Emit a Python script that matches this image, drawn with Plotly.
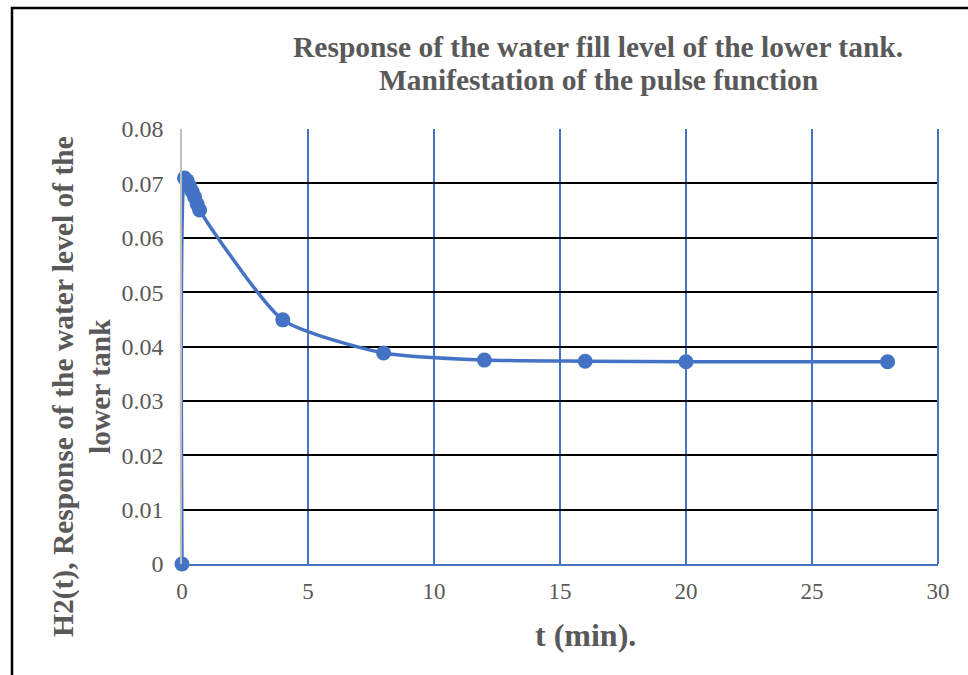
import plotly.graph_objects as go

t_min = [0, 0.1, 0.2, 0.3, 0.4, 0.5, 0.6, 0.7, 4, 8, 12, 16, 20, 28]
h2 = [0, 0.0710, 0.0705, 0.0695, 0.0685, 0.0675, 0.0662, 0.0651, 0.0449, 0.0388, 0.0375, 0.0373, 0.0372, 0.0372]

x_ticks = [0, 5, 10, 15, 20, 25, 30]
y_ticks = [0, 0.01, 0.02, 0.03, 0.04, 0.05, 0.06, 0.07, 0.08]
y_tick_text = ["0", "0.01", "0.02", "0.03", "0.04", "0.05", "0.06", "0.07", "0.08"]

title_lines = ["Response of the water fill level of the lower tank.", "Manifestation of the pulse function"]
ytitle_lines = ["H2(t), Response of the water level of the", "lower tank"]
xtitle = "t (min)."

BLUE = "#4472C4"
GRAY = "#595959"
FONT = "Liberation Serif"

W, H = 968, 675
L, R, T, B = 182, 30, 129, 111
pw, ph = W - L - R, H - T - B

def px(xp):
    return (xp - L) / pw

def py(yp):
    return (H - B - yp) / ph

fig = go.Figure()
fig.add_trace(go.Scatter(
    x=t_min, y=h2, mode="lines+markers",
    line=dict(color=BLUE, width=3.5, shape="spline", smoothing=0.6),
    marker=dict(color=BLUE, size=15),
    cliponaxis=False, showlegend=False,
))

annotations = []
for txt, yp in zip(title_lines, [47, 80]):
    annotations.append(dict(text="<b>%s</b>" % txt, xref="paper", yref="paper",
                            x=px(598), y=py(yp), xanchor="center", yanchor="middle",
                            showarrow=False, font=dict(size=29.5, color=GRAY, family=FONT)))
for txt, xp in zip(ytitle_lines, [63, 100]):
    annotations.append(dict(text="<b>%s</b>" % txt, xref="paper", yref="paper",
                            x=px(xp), y=py(387), xanchor="center", yanchor="middle", textangle=-90,
                            showarrow=False, font=dict(size=29.5, color=GRAY, family=FONT)))
annotations.append(dict(text="<b>%s</b>" % xtitle, xref="paper", yref="paper", x=px(585), y=py(635),
                        xanchor="center", yanchor="middle", showarrow=False,
                        font=dict(size=32, color=GRAY, family=FONT)))

fig.update_layout(
    width=W, height=H,
    margin=dict(l=L, r=R, t=T, b=B),
    paper_bgcolor="white", plot_bgcolor="white",
    font=dict(family=FONT, color=GRAY, size=24),
    xaxis=dict(
        range=[0, 30], tickvals=x_ticks, ticks="",
        showgrid=True, gridcolor=BLUE, gridwidth=1.5,
        zeroline=False, showline=True, linecolor=BLUE, linewidth=2,
        tickfont=dict(size=23, color=GRAY), ticklabelstandoff=5,
    ),
    yaxis=dict(
        range=[0, 0.08], tickvals=y_ticks, ticktext=y_tick_text, ticks="",
        showgrid=True, gridcolor="black", gridwidth=1.5,
        zeroline=False, showline=True, linecolor="#BFBFBF", linewidth=1.5,
        tickfont=dict(size=24, color=GRAY), ticklabelstandoff=12,
    ),
    shapes=[
        dict(type="rect", xref="paper", yref="paper",
             x0=px(12), x1=px(990), y0=py(700), y1=py(8),
             line=dict(color="black", width=2.5), fillcolor="rgba(0,0,0,0)", layer="above"),
        dict(type="line", xref="paper", yref="paper",
             x0=1, x1=1, y0=0, y1=1, line=dict(color=BLUE, width=2)),
    ],
    annotations=annotations,
)

fig.write_html("out.html")
